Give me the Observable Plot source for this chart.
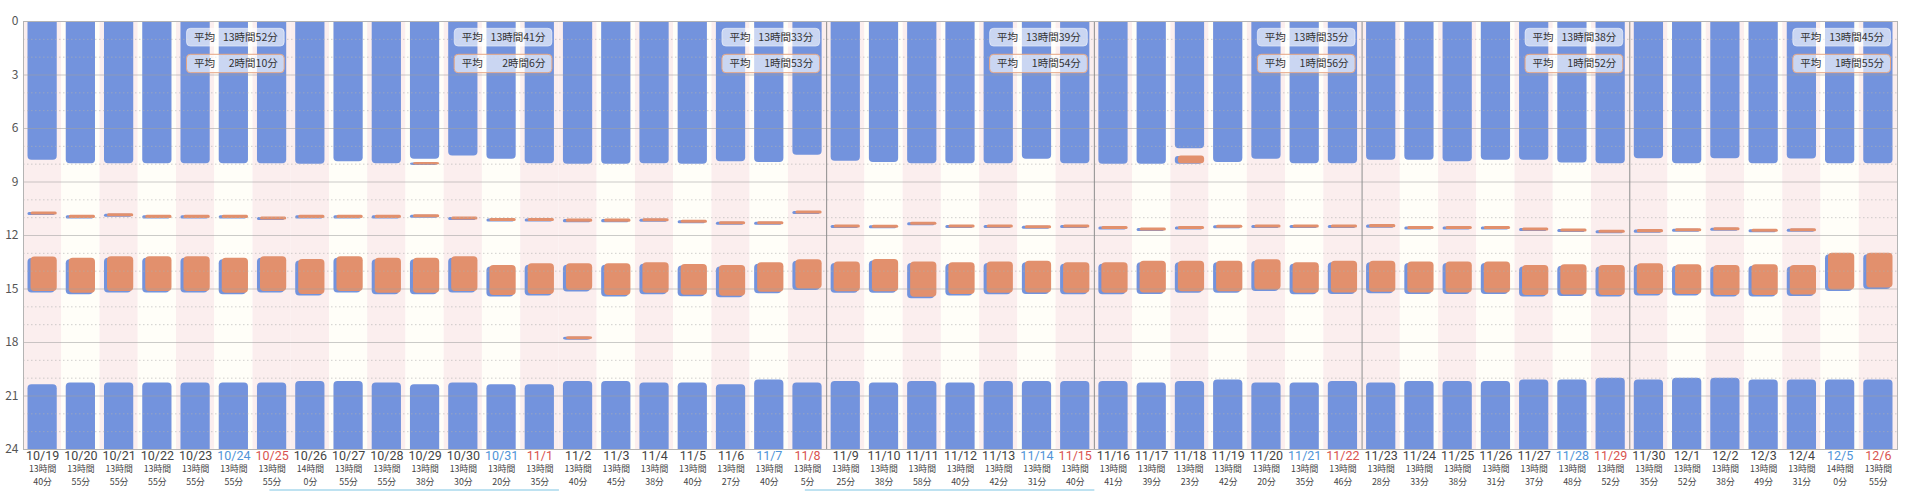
<!DOCTYPE html>
<html><head><meta charset="utf-8">
<script src="https://cdn.jsdelivr.net/npm/d3@7"></script>
<script src="https://cdn.jsdelivr.net/npm/@observablehq/plot@0.6"></script>
<style>
html,body{margin:0;padding:0;background:#fff;}
#chart svg{display:block;}
</style></head><body><div id="chart"></div>
<script>
// ---- data ----
const dates = ["10/19","10/20","10/21","10/22","10/23","10/24","10/25",
  "10/26","10/27","10/28","10/29","10/30","10/31","11/1",
  "11/2","11/3","11/4","11/5","11/6","11/7","11/8",
  "11/9","11/10","11/11","11/12","11/13","11/14","11/15",
  "11/16","11/17","11/18","11/19","11/20","11/21","11/22",
  "11/23","11/24","11/25","11/26","11/27","11/28","11/29",
  "11/30","12/1","12/2","12/3","12/4","12/5","12/6"];
const year = 2020;
// total per day (hours, minutes)
const totalH = [13,13,13,13,13,13,13, 14,13,13,13,13,13,13, 13,13,13,13,13,13,13,
  13,13,13,13,13,13,13, 13,13,13,13,13,13,13, 13,13,13,13,13,13,13, 13,13,13,13,13,14,13];
const totalM = [40,55,55,55,55,55,55, 0,55,55,38,30,20,35, 40,45,38,40,27,40,5,
  25,38,58,40,42,31,40, 41,39,23,42,20,35,46, 28,33,38,31,37,48,52, 35,52,38,49,31,0,55];
// night sleep ends (hour of day)
const wake = [7.78,7.97,7.97,7.97,7.97,7.97,7.97, 8.0,7.87,7.97,7.72,7.54,7.72,7.97,
  8.0,8.0,7.97,8.0,7.86,7.91,7.50, 7.83,7.91,7.97,7.97,7.97,7.72,7.97,
  8.0,8.0,7.13,7.91,7.72,7.97,7.97, 7.78,7.78,7.87,7.78,7.78,7.93,7.97,
  7.69,7.97,7.69,7.97,7.71,7.97,7.97];
// short event around 11 o'clock (null = none)
const shortStart = [10.68,10.87,10.78,10.87,10.87,10.87,10.96, 10.87,10.87,10.87,10.83,10.96,11.04,11.04,
  11.08,11.08,11.06,11.15,11.23,11.23,10.63, 11.41,11.43,11.26,11.41,11.41,11.45,11.41,
  11.49,11.58,11.49,11.43,11.41,11.41,11.41, 11.39,11.50,11.50,11.49,11.58,11.63,11.71,
  11.67,11.62,11.56,11.65,11.62,null,null];
const shortDuration = 0.17;
// afternoon nap
const napStart = [13.21,13.27,13.19,13.19,13.19,13.27,13.19, 13.34,13.19,13.27,13.27,13.19,13.68,13.59,
  13.59,13.59,13.53,13.62,13.68,13.53,13.36, 13.49,13.34,13.49,13.53,13.49,13.44,13.53,
  13.53,13.44,13.44,13.44,13.36,13.53,13.44, 13.44,13.49,13.49,13.49,13.68,13.64,13.68,
  13.59,13.64,13.68,13.64,13.68,12.99,12.99];
const napEnd = [15.14,15.24,15.14,15.14,15.14,15.24,15.14, 15.31,15.14,15.24,15.24,15.14,15.37,15.31,
  15.09,15.37,15.24,15.35,15.40,15.18,15.00, 15.16,15.16,15.46,15.31,15.24,15.22,15.24,
  15.24,15.22,15.16,15.16,15.05,15.24,15.22, 15.18,15.22,15.22,15.22,15.37,15.33,15.37,
  15.31,15.31,15.37,15.37,15.33,15.05,14.95];
// evening sleep start
const bedStart = [20.37,20.27,20.27,20.27,20.27,20.27,20.27, 20.18,20.18,20.27,20.37,20.27,20.37,20.37,
  20.18,20.18,20.27,20.27,20.37,20.10,20.27, 20.18,20.27,20.18,20.27,20.18,20.18,20.18,
  20.18,20.27,20.18,20.10,20.27,20.27,20.18, 20.27,20.18,20.18,20.18,20.10,20.10,20.01,
  20.10,20.01,20.01,20.10,20.10,20.10,20.10];
// extra short events
const extraDates = ["10/29","11/2","11/18"];
const extraStart = [7.91,17.68,7.54];
const extraEnd = [8.05,17.84,7.97];
// weekly averages
const weekAvgSleep = ["13時間52分","13時間41分","13時間33分","13時間39分","13時間35分","13時間38分","13時間45分"];
const weekAvgNap = ["2時間10分","2時間6分","1時間53分","1時間54分","1時間56分","1時間52分","1時間55分"];
const weekSeparators = ["11/9","11/16","11/23","11/30"];
const underlinedWeeks = [1,3];
const yTicks = [0,3,6,9,12,15,18,21,24];
const avgLabel = "平均";

// ---- styles ----
const BLUE = "#7393dd", ORANGE = "#e2906d", PINK = "#fbeeee", CREAM = "#fffef8";
const INS = 4.5;

const days = dates.map((d,i)=>{
  const [m,dd] = d.split("/").map(Number);
  const dow = new Date(year, m-1, dd).getDay();
  return {i, date:d, dow, wake:wake[i], s:shortStart[i], ns:napStart[i], ne:napEnd[i], bed:bedStart[i],
    h:totalH[i], m:totalM[i]};
});
const shorts = days.filter(d=>d.s!=null);
const extras = extraDates.map((d,k)=>({i:dates.indexOf(d), s:extraStart[k], e:extraEnd[k]}));
const weeks = weekAvgSleep.map((s,w)=>({w, sleep:s, nap:weekAvgNap[w]}));

const x1 = d=>d.i-0.5, x2 = d=>d.i+0.5;
const wx1 = d=>d.w*7+3.5, wx2 = d=>d.w*7+6.5;
const boxText = {frameAnchor:"top",lineAnchor:"middle",fontSize:10.5,fill:"#333"};
const lblText = {x:"i",frameAnchor:"bottom",lineAnchor:"middle"};

const plot = Plot.plot({
  width:1920, height:500,
  marginLeft:23, marginRight:23, marginTop:21, marginBottom:51,
  style:{fontFamily:"'Noto Sans CJK JP','Noto Sans',sans-serif", background:"#fff"},
  x:{type:"linear", domain:[-0.5,48.5], axis:null},
  y:{domain:[0,24], reverse:true},
  marks:[
    // column backgrounds
    Plot.rect(days,{x1,x2,y1:0,y2:24,fill:d=>(d.i%7)%2===0?PINK:CREAM}),
    // night sleep (top)
    Plot.rect(days,{x1,x2,y1:0,y2:"wake",fill:BLUE,rx:4,insetLeft:INS,insetRight:INS,insetTop:-8,clip:true}),
    // evening sleep (bottom)
    Plot.rect(days,{x1,x2,y1:"bed",y2:24,fill:BLUE,rx:4,insetLeft:INS,insetRight:INS,insetBottom:-8,clip:true}),
    // nap: blue shadow + orange
    Plot.rect(days,{x1,x2,y1:"ns",y2:"ne",fill:BLUE,rx:4,insetLeft:INS,insetRight:INS+2,dy:1.5}),
    Plot.rect(days,{x1,x2,y1:"ns",y2:"ne",fill:ORANGE,rx:4,insetLeft:INS+3,insetRight:INS}),
    // short events
    Plot.rect(shorts,{x1,x2,y1:"s",y2:d=>d.s+shortDuration,fill:BLUE,rx:1.5,insetLeft:INS,insetRight:INS+2,dy:0.5}),
    Plot.rect(shorts,{x1,x2,y1:"s",y2:d=>d.s+shortDuration,fill:ORANGE,rx:1.5,insetLeft:INS+3,insetRight:INS}),
    Plot.rect(extras,{x1,x2,y1:"s",y2:"e",fill:BLUE,rx:3,insetLeft:INS,insetRight:INS+2,dy:0.5}),
    Plot.rect(extras,{x1,x2,y1:"s",y2:"e",fill:ORANGE,rx:3,insetLeft:INS+3,insetRight:INS}),
    // grid
    Plot.ruleY(d3.range(1,24).filter(h=>h%3!==0),{stroke:"#b0b0b0",strokeOpacity:0.6,strokeDasharray:"1.5,2.5"}),
    Plot.ruleY(yTicks.slice(1,-1),{stroke:"#a0a0a0",strokeOpacity:0.55}),
    Plot.ruleX(weekSeparators,{x:d=>dates.indexOf(d)-0.5,stroke:"#8c8c8c",strokeWidth:1}),
    Plot.frame({stroke:"#b4b4b4"}),
    // y axis
    Plot.axisY(yTicks,{tickSize:0,tickPadding:5,fontSize:12,fill:"#555",label:null}),
    // weekly average boxes
    Plot.rect(weeks,{x1:wx1,x2:wx2,insetLeft:10.5,insetRight:6.5,insetTop:7.3,insetBottom:402.9,
      fill:"#fff",fillOpacity:0.62,stroke:"#fff",strokeOpacity:0.5,rx:4}),
    Plot.rect(weeks,{x1:wx1,x2:wx2,insetLeft:10.5,insetRight:6.5,insetTop:33.3,insetBottom:376.3,
      fill:"#fff",fillOpacity:0.62,stroke:"#e6a582",strokeWidth:1,rx:4}),
    Plot.text(weeks,{...boxText,x:wx1,text:()=>avgLabel,dy:16.3,dx:17.5,textAnchor:"start"}),
    Plot.text(weeks,{...boxText,x:wx2,text:"sleep",dy:16.3,dx:-13.5,textAnchor:"end"}),
    Plot.text(weeks,{...boxText,x:wx1,text:()=>avgLabel,dy:42.6,dx:17.5,textAnchor:"start"}),
    Plot.text(weeks,{...boxText,x:wx2,text:"nap",dy:42.6,dx:-13.5,textAnchor:"end"}),
    // x labels
    Plot.text(days,{...lblText,text:"date",dy:6.5,fontSize:12.5,fontFamily:"Roboto, sans-serif",
      fill:d=>d.dow===6?"#4f94d8":d.dow===0?"#d9534f":"#444"}),
    Plot.text(days,{...lblText,text:d=>`${d.h}時間`,dy:20,fontSize:8.8,fill:"#444"}),
    Plot.text(days,{...lblText,text:d=>`${d.m}分`,dy:32.8,fontSize:8.8,fill:"#444"}),
    // underline under selected weeks
    Plot.link(underlinedWeeks,{x1:w=>w*7-1.07,x2:w=>w*7+6.5,y1:()=>24,y2:()=>24,dy:40.5,stroke:"#a9d8ec",strokeWidth:1.5})
  ]
});
document.getElementById("chart").append(plot);
</script>
</body></html>
